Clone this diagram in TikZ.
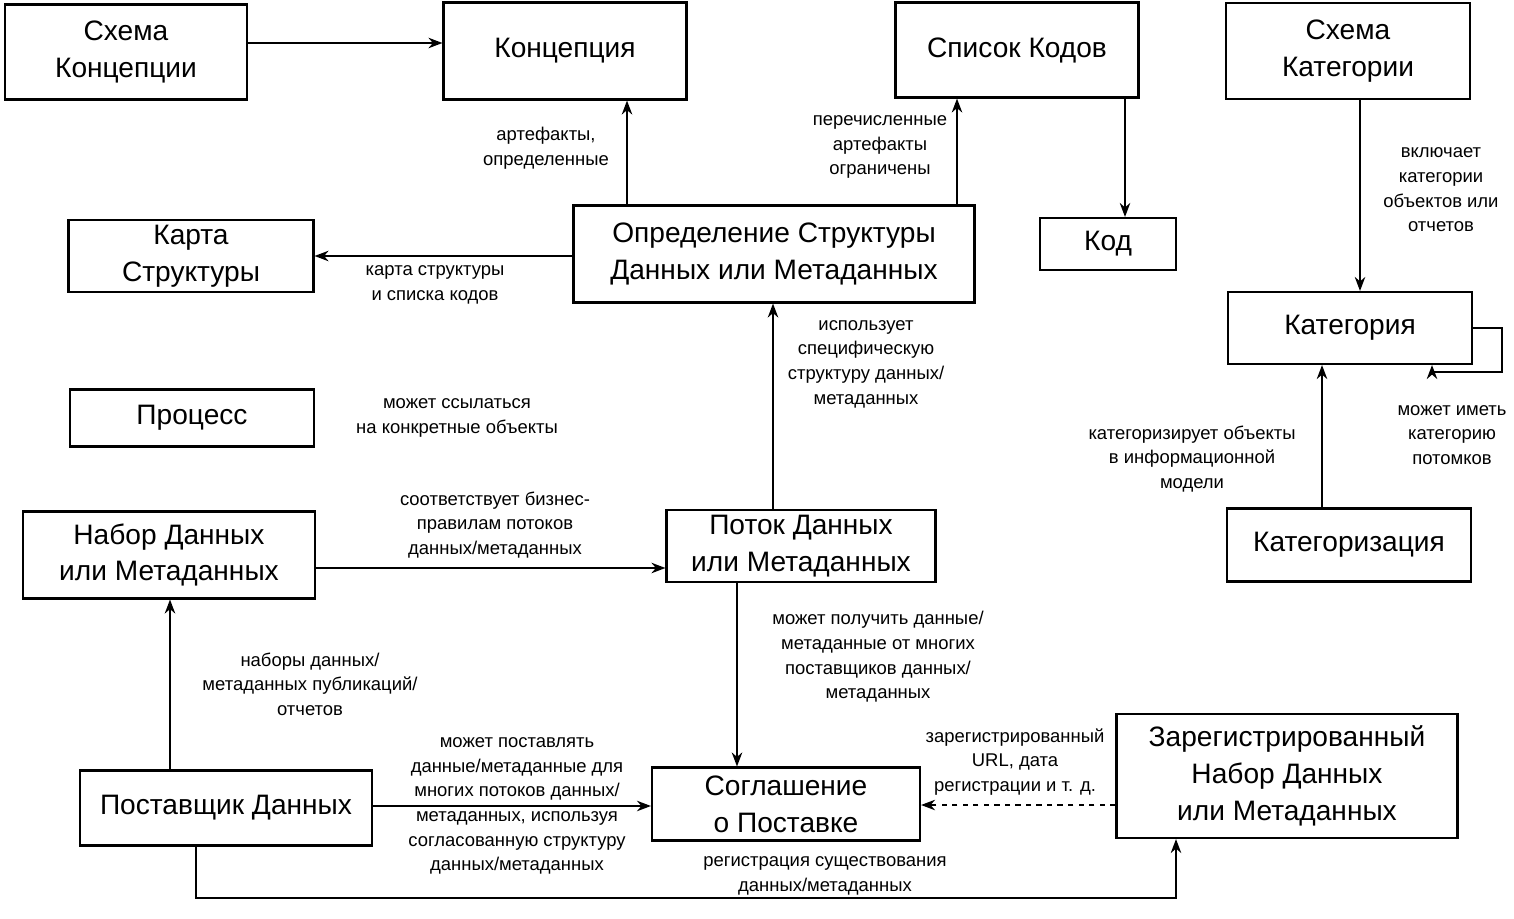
\documentclass[tikz,border=0pt]{standalone}
\usepackage{fontspec}
\setmainfont{Liberation Sans}
\usetikzlibrary{arrows.meta}
\begin{document}
\begin{tikzpicture}[x=0.02cm,y=-0.02cm,
  box/.style={draw,line width=1.2pt,inner sep=0pt,align=center,font=\fontsize{16}{21}\selectfont},
  lbl/.style={align=center,font=\fontsize{10.5}{14}\selectfont,inner sep=1pt},
  arr/.style={-{Stealth[length=8pt,width=6pt]},line width=0.9pt}]
\useasboundingbox (0,0) rectangle (1514,919);
\newcommand{\bx}[6]{\node[box,minimum width=#4*0.02cm,minimum height=#5*0.02cm] (#1) at (#2,#3) {#6};}
\bx{sk}{126}{52}{242}{95}{Схема\\Концепции}
\bx{kc}{565}{51}{243}{97}{Концепция}
\bx{spk}{1017}{50}{243}{95}{Список Кодов}
\bx{skat}{1348}{51}{244}{96}{Схема\\Категории}
\bx{kod}{1108}{244}{136}{52}{Код}
\bx{karta}{191}{256}{245}{72}{Карта\\Структуры}
\bx{opr}{774}{254}{401}{97}{Определение Структуры\\Данных или Метаданных}
\bx{kat}{1350}{328}{244}{72}{Категория}
\bx{proc}{192}{418}{244}{57}{Процесс}
\bx{nabor}{169}{555}{292}{87}{Набор Данных\\или Метаданных}
\bx{potok}{801}{546}{269}{72}{Поток Данных\\или Метаданных}
\bx{katz}{1349}{545}{244}{73}{Категоризация}
\bx{post}{226}{808}{292}{75}{Поставщик Данных}
\bx{sogl}{786}{804}{268}{73}{Соглашение\\о Поставке}
\bx{zar}{1287}{776}{341}{124}{Зарегистрированный\\Набор Данных\\или Метаданных}

\draw[arr] (sk.east|-0,43) -- (kc.west|-0,43);
\draw[arr] (opr.north-|627,0) -- (kc.south-|627,0);
\draw[arr] (opr.north-|957,0) -- (spk.south-|957,0);
\draw[arr] (spk.south-|1125,0) -- (kod.north-|1125,0);
\draw[arr] (opr.west|-karta.east) -- (karta.east);
\draw[arr] (skat.south-|1360,0) -- (kat.north-|1360,0);
\draw[arr] (kat.east) -- (1502,328) -- (1502,372) -- (1432,372) -- (kat.south-|1432,0);
\draw[arr] (katz.north-|1322,0) -- (kat.south-|1322,0);
\draw[arr] (potok.north-|773,0) -- (opr.south-|773,0);
\draw[arr] (nabor.east|-0,568) -- (potok.west|-0,568);
\draw[arr] (potok.south-|737,0) -- (sogl.north-|737,0);
\draw[arr] (post.north-|170,0) -- (nabor.south-|170,0);
\draw[arr] (post.east|-0,806) -- (sogl.west|-0,806);
\draw[arr,dashed] (zar.west|-0,805) -- (sogl.east|-0,805);
\draw[arr] (post.south-|196,0) -- (196,898) -- (1176,898) -- (zar.south-|1176,0);

\node[lbl] (l1) at (546,148) {артефакты,\\определенные};
\node[lbl] (l2) at (880,147) {перечисленные\\артефакты\\ограничены};
\node[lbl] (l3) at (1441,190) {включает\\категории\\объектов или\\отчетов};
\node[lbl] (l4) at (435,285) {карта структуры\\и списка кодов};
\node[lbl] (l5) at (866,364) {использует\\специфическую\\структуру данных/\\метаданных};
\node[lbl] (l6) at (457,418) {может ссылаться\\на конкретные объекты};
\node[lbl] (l7) at (1192,459) {категоризирует объекты\\в информационной\\модели};
\node[lbl] (l8) at (1452,435) {может иметь\\категорию\\потомков};
\node[lbl] (l9) at (495,525) {соответствует бизнес-\\правилам потоков\\данных/метаданных};
\node[lbl] (l10) at (878,657) {может получить данные/\\метаданные от многих\\поставщиков данных/\\метаданных};
\node[lbl] (l11) at (310,684) {наборы данных/\\метаданных публикаций/\\отчетов};
\node[lbl] (l12) at (517,806) {может поставлять\\данные/метаданные для\\многих потоков данных/\\метаданных, используя\\согласованную структуру\\данных/метаданных};
\node[lbl] (l13) at (1015,762) {зарегистрированный\\URL, дата\\регистрации и т. д.};
\node[lbl] (l14) at (825,876) {регистрация существования\\данных/метаданных};
\end{tikzpicture}
\end{document}
